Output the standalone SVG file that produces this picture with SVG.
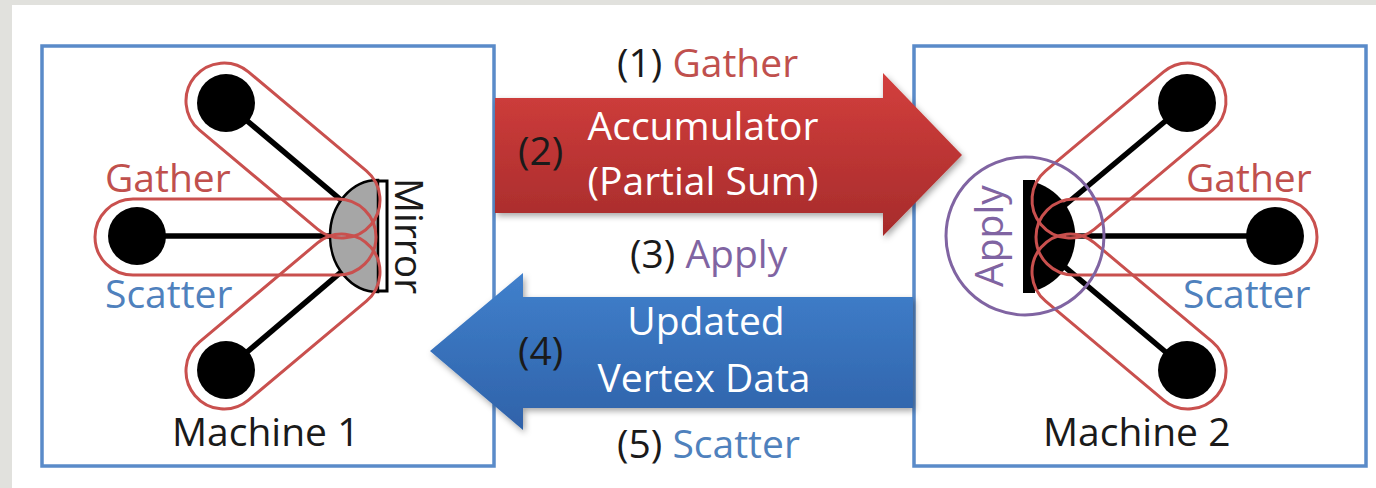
<svg xmlns="http://www.w3.org/2000/svg" width="1376" height="488" viewBox="0 0 1376 488">
  <defs>
    <linearGradient id="gRed" x1="0" y1="0" x2="0" y2="1">
      <stop offset="0" stop-color="#d33f3d"/>
      <stop offset="1" stop-color="#a62b2b"/>
    </linearGradient>
    <linearGradient id="gBlue" x1="0" y1="0" x2="0" y2="1">
      <stop offset="0" stop-color="#4080cc"/>
      <stop offset="1" stop-color="#2f62a9"/>
    </linearGradient>
    <filter id="shadow" x="-10%" y="-20%" width="130%" height="150%">
      <feDropShadow dx="2" dy="3" stdDeviation="3" flood-color="#000" flood-opacity="0.35"/>
    </filter>
  </defs>
  <style>
    text { font-family: "Open Sans", "Liberation Sans", sans-serif; font-size: 39px; }
    .box { fill: #ffffff; stroke: #5a8bc9; stroke-width: 3.5; }
    .edge { stroke: #000; stroke-width: 5.5; fill: none; }
    .vtx { fill: #000; }
    .loop { fill: none; stroke: #c9504e; stroke-width: 3; }
    .red { fill: #c0504d; }
    .blue { fill: #4f81bd; }
    .purple { fill: #8064a2; }
    .blk { fill: #1a1a1a; }
    .wht { fill: #ffffff; }
  </style>

  <!-- background frame -->
  <rect x="0" y="0" width="1376" height="488" fill="#ffffff"/>
  <rect x="0" y="0" width="1376" height="5" fill="#e1e1dd"/>
  <rect x="0" y="0" width="12" height="488" fill="#e1e1dd"/>

  <!-- Machine 1 -->
  <g id="machine1">
    <rect class="box" x="42" y="46" width="452" height="420"/>
    <g id="m1-edges">
      <line class="edge" x1="226" y1="103" x2="360" y2="216"/>
      <line class="edge" x1="137" y1="236" x2="360" y2="236"/>
      <line class="edge" x1="226" y1="370" x2="360" y2="256"/>
    </g>
    <g id="m1-mirror">
      <path d="M378,180 A48,56 0 0 0 378,292 Z" fill="#a6a6a6" stroke="#000" stroke-width="2.5"/>
      <path d="M377,181 H387 V291 H377" fill="none" stroke="#000" stroke-width="3"/>
      <text class="blk" transform="translate(395,178) rotate(90)">Mirror</text>
    </g>
    <g id="m1-v-top"><circle class="vtx" cx="226" cy="103" r="29"/></g>
    <g id="m1-v-mid"><circle class="vtx" cx="137" cy="236" r="29"/></g>
    <g id="m1-v-bot"><circle class="vtx" cx="226" cy="370" r="29"/></g>
    <g id="m1-loops">
      <rect class="loop" x="-38" y="-38" width="230" height="76" rx="38" transform="translate(224,101) rotate(40)"/>
      <rect class="loop" x="95" y="199" width="281" height="76" rx="38"/>
      <rect class="loop" x="-38" y="-38" width="230" height="76" rx="38" transform="translate(224,371) rotate(-40)"/>
    </g>
    <text class="red" x="105" y="192">Gather</text>
    <text class="blue" x="105" y="308">Scatter</text>
    <text class="blk" x="172" y="446">Machine 1</text>
  </g>

  <!-- Machine 2 -->
  <g id="machine2">
    <rect class="box" x="914" y="46" width="452" height="420"/>
    <g id="m2-edges">
      <line class="edge" x1="1187" y1="103" x2="1040" y2="226"/>
      <line class="edge" x1="1275" y1="236" x2="1040" y2="236"/>
      <line class="edge" x1="1187" y1="370" x2="1040" y2="246"/>
    </g>
    <g id="m2-master">
      <path d="M1025,180 A58,57 0 0 1 1025,293 Z" fill="#000"/>
      <rect x="1023" y="180" width="12" height="113" fill="#000"/>
    </g>
    <g id="m2-v-top"><circle class="vtx" cx="1187" cy="103" r="29"/></g>
    <g id="m2-v-mid"><circle class="vtx" cx="1275" cy="236" r="29"/></g>
    <g id="m2-v-bot"><circle class="vtx" cx="1187" cy="370" r="29"/></g>
    <g id="m2-loops" transform="matrix(-1 0 0 1 1412 0)">
      <rect class="loop" x="-38" y="-38" width="230" height="76" rx="38" transform="translate(224,101) rotate(40)"/>
      <rect class="loop" x="95" y="199" width="281" height="76" rx="38"/>
      <rect class="loop" x="-38" y="-38" width="230" height="76" rx="38" transform="translate(224,371) rotate(-40)"/>
    </g>
    <g id="m2-apply">
      <circle cx="1025" cy="236" r="79" fill="none" stroke="#8064a2" stroke-width="3"/>
      <text class="purple" transform="translate(1003,287) rotate(-90)">Apply</text>
    </g>
    <text class="red" x="1186" y="192">Gather</text>
    <text class="blue" x="1183" y="308">Scatter</text>
    <text class="blk" x="1043" y="446">Machine 2</text>
  </g>

  <!-- Connectors -->
  <g id="connectors">
    <g id="arrow-accumulator">
      <polygon points="495,98 883,98 883,73 962,155 883,236 883,213 495,213" fill="url(#gRed)" filter="url(#shadow)"/>
      <text class="blk" x="518" y="165">(2)</text>
      <text class="wht" x="703" y="140" text-anchor="middle">Accumulator</text>
      <text class="wht" x="703" y="195" text-anchor="middle">(Partial Sum)</text>
    </g>
    <g id="arrow-update">
      <polygon points="913,297 523,297 523,273 430,351 523,430 523,408 913,408" fill="url(#gBlue)" filter="url(#shadow)"/>
      <text class="blk" x="518" y="365">(4)</text>
      <text class="wht" x="706" y="335" text-anchor="middle">Updated</text>
      <text class="wht" x="704" y="392" text-anchor="middle">Vertex Data</text>
    </g>
  </g>

  <!-- Step labels -->
  <g id="step-labels">
    <text x="617" y="77"><tspan class="blk">(1) </tspan><tspan class="red">Gather</tspan></text>
    <text x="630" y="268"><tspan class="blk">(3) </tspan><tspan class="purple">Apply</tspan></text>
    <text x="617" y="458"><tspan class="blk">(5) </tspan><tspan class="blue">Scatter</tspan></text>
  </g>
</svg>
